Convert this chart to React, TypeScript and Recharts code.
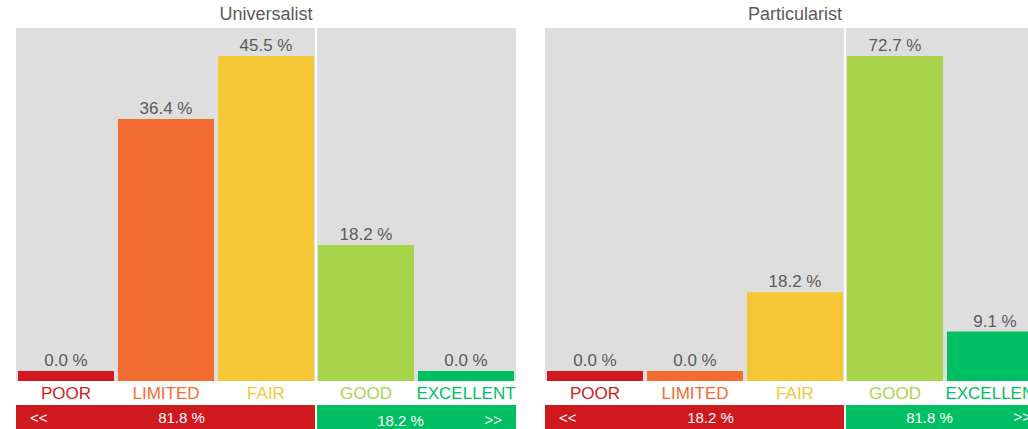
import { Bar, BarChart, CartesianGrid, Cell, LabelList, ReferenceLine, XAxis, YAxis } from 'recharts'

const CATEGORIES = ['POOR', 'LIMITED', 'FAIR', 'GOOD', 'EXCELLENT']
const CAT_COLORS = ['#d0191f', '#f36c32', '#f5c734', '#a8d44c', '#00bf63']

const UNIVERSALIST = [0.0, 36.4, 45.5, 18.2, 0.0]
const PARTICULARIST = [0.0, 0.0, 18.2, 72.7, 9.1]

const UNIVERSALIST_SPLIT = [81.8, 18.2]
const PARTICULARIST_SPLIT = [18.2, 81.8]

const PANEL_TITLES = ['Universalist', 'Particularist']

const TEXT_GREY = '#5a5a5a'
const BG_GREY = '#dedede'

type PanelProps = {
  title: string
  values: number[]
  split: number[]
  left: number
  greenDrop?: number
}

function CategoryTick(props: any) {
  const { x, y, payload } = props
  const idx = CATEGORIES.indexOf(payload.value)
  return (
    <text x={x} y={y + 18} textAnchor="middle" fill={CAT_COLORS[idx]} fontSize={17}>
      {payload.value}
    </text>
  )
}

function Panel({ title, values, split, left, greenDrop = 0 }: PanelProps) {
  const data = CATEGORIES.map((name, i) => ({ name, value: values[i] }))
  const max = Math.max(...values)
  // bars sit on a small floor below zero so 0.0 % still shows a stub
  const floor = max * 0.0318
  const top = max * 1.089

  return (
    <div style={{ position: 'absolute', left, top: 0, width: 532, height: 429 }}>
      <div
        style={{
          position: 'absolute', left: 16, top: 0, width: 500, height: 28, lineHeight: '28px',
          textAlign: 'center', fontSize: 18, color: TEXT_GREY,
        }}
      >
        {title}
      </div>
      <BarChart width={532} height={405} data={data} margin={{ top: 28, right: 16, bottom: 0, left: 16 }}>
        <CartesianGrid horizontal={false} vertical={false} fill={BG_GREY} />
        <XAxis
          dataKey="name"
          height={24}
          axisLine={false}
          tickLine={false}
          tickSize={0}
          tickMargin={0}
          interval={0}
          tick={<CategoryTick />}
        />
        <YAxis hide domain={[-floor, top]} />
        <ReferenceLine x="GOOD" position="start" stroke="#ffffff" strokeWidth={2} />
        <Bar dataKey={(d: any) => [-floor, d.value]} barSize={96} isAnimationActive={false}>
          {data.map((d, i) => (
            <Cell key={d.name} fill={CAT_COLORS[i]} />
          ))}
          <LabelList
            dataKey="value"
            position="top"
            offset={5}
            fill={TEXT_GREY}
            fontSize={17}
            formatter={(v: any) => `${Number(v).toFixed(1)} %`}
          />
        </Bar>
      </BarChart>
      <div
        style={{
          position: 'absolute', left: 16, top: 405, width: 500, height: 24,
          display: 'flex', gap: 2, fontSize: 15, color: '#ffffff',
        }}
      >
        <div
          style={{
            position: 'relative', width: 299, height: 24, background: CAT_COLORS[0],
            display: 'flex', alignItems: 'center', justifyContent: 'center', paddingLeft: 32, boxSizing: 'border-box',
          }}
        >
          <span style={{ position: 'absolute', left: 14 }}>&lt;&lt;</span>
          {split[0].toFixed(1)} %
        </div>
        <div
          style={{
            position: 'relative', width: 199, height: 24, background: CAT_COLORS[4],
            display: 'flex', alignItems: 'center', justifyContent: 'center', paddingRight: 32, boxSizing: 'border-box',
          }}
        >
          <span style={{ position: 'relative', top: greenDrop }}>{split[1].toFixed(1)} %</span>
          <span style={{ position: 'absolute', right: 14, top: 3 + greenDrop }}>&gt;&gt;</span>
        </div>
      </div>
    </div>
  )
}

export default function App() {
  return (
    <div
      style={{
        position: 'absolute', left: 0, top: 0, width: 1028, height: 429, overflow: 'hidden',
        background: '#ffffff', fontFamily: '"Liberation Sans", Arial, sans-serif',
      }}
    >
      <Panel title={PANEL_TITLES[0]} values={UNIVERSALIST} split={UNIVERSALIST_SPLIT} left={0} greenDrop={3} />
      <Panel title={PANEL_TITLES[1]} values={PARTICULARIST} split={PARTICULARIST_SPLIT} left={529} />
    </div>
  )
}
